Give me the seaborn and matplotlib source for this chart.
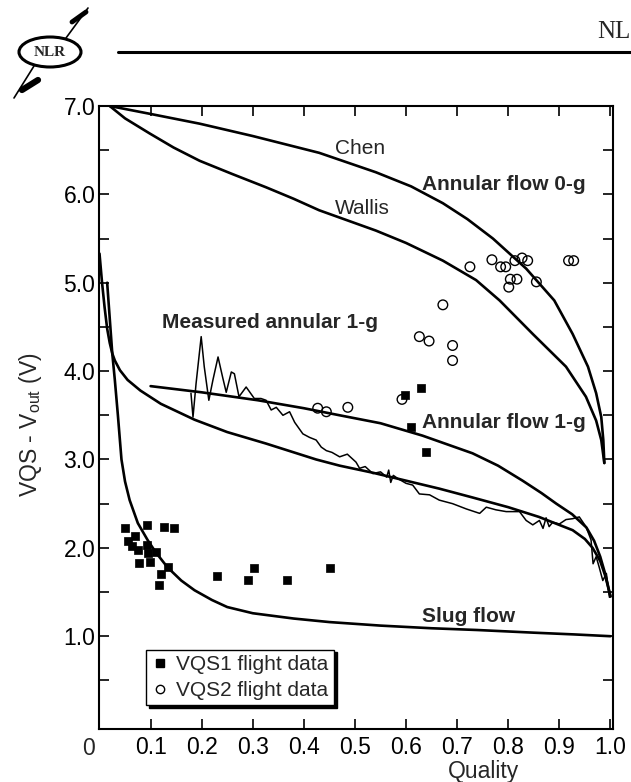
import numpy as np
import pandas as pd
import matplotlib
matplotlib.use("Agg")
import matplotlib.pyplot as plt
import seaborn as sns
from matplotlib.lines import Line2D
from matplotlib.patches import Ellipse

# data
chen_x = [0.02, 0.10, 0.196, 0.30, 0.43, 0.541, 0.61, 0.672, 0.72, 0.77, 0.835, 0.89, 0.926, 0.956, 0.972, 0.982, 0.986, 0.988]
chen_y = [7.0, 6.91, 6.80, 6.66, 6.47, 6.25, 6.09, 5.90, 5.72, 5.50, 5.16, 4.80, 4.42, 4.05, 3.75, 3.48, 3.22, 2.96]

wallis_x = [0.02, 0.05, 0.098, 0.145, 0.196, 0.26, 0.326, 0.38, 0.43, 0.541, 0.60, 0.672, 0.737, 0.783, 0.848,
            0.913, 0.952, 0.972, 0.982, 0.988]
wallis_y = [7.0, 6.86, 6.69, 6.53, 6.38, 6.23, 6.08, 5.95, 5.82, 5.59, 5.45, 5.25, 5.03, 4.80, 4.42,
            4.05, 3.71, 3.44, 3.22, 2.96]

annular1g_x = [0.10, 0.20, 0.31, 0.40, 0.47, 0.55, 0.632, 0.73, 0.78, 0.828, 0.865, 0.894, 0.925, 0.953, 0.968, 0.98, 0.99, 1.0]
annular1g_y = [3.83, 3.76, 3.67, 3.58, 3.50, 3.41, 3.27, 3.07, 2.93, 2.76, 2.62, 2.50, 2.38, 2.23, 2.08, 1.90, 1.70, 1.45]

model_x = [0.0, 0.005, 0.01, 0.015, 0.02, 0.025, 0.03, 0.04, 0.055, 0.08, 0.12, 0.186, 0.25, 0.326, 0.424, 0.47,
           0.535, 0.60, 0.665, 0.73, 0.80, 0.86, 0.926, 0.95, 0.965, 0.98, 0.99, 1.0]
model_y = [5.33, 5.0, 4.72, 4.48, 4.32, 4.20, 4.12, 4.01, 3.90, 3.78, 3.63, 3.45, 3.31, 3.18, 3.00, 2.93,
           2.85, 2.76, 2.67, 2.57, 2.46, 2.35, 2.20, 2.10, 2.00, 1.85, 1.68, 1.45]

slug_x = [0.015, 0.02, 0.025, 0.03, 0.036, 0.043, 0.05, 0.059, 0.075, 0.094, 0.11, 0.133, 0.16, 0.186, 0.22,
          0.25, 0.30, 0.38, 0.45, 0.55, 0.65, 0.74, 0.85, 0.93, 1.0]
slug_y = [5.0, 4.6, 4.2, 3.9, 3.5, 3.0, 2.75, 2.54, 2.28, 2.09, 1.95, 1.78, 1.63, 1.52, 1.41,
          1.33, 1.26, 1.20, 1.16, 1.12, 1.09, 1.07, 1.04, 1.02, 1.0]

measured_x = [0.179, 0.183, 0.189, 0.199, 0.205, 0.214, 0.222, 0.232, 0.241, 0.248, 0.258, 0.264, 0.273, 0.287,
              0.303, 0.316, 0.326, 0.336, 0.346, 0.359, 0.372, 0.382, 0.398, 0.411, 0.424, 0.434, 0.444, 0.455,
              0.470, 0.485, 0.502, 0.509, 0.520, 0.535, 0.550, 0.562, 0.566, 0.570, 0.575, 0.585, 0.600, 0.613,
              0.626, 0.646, 0.665, 0.691, 0.718, 0.744, 0.757, 0.776, 0.796, 0.822, 0.835, 0.848, 0.861, 0.868,
              0.874, 0.880, 0.887, 0.900, 0.913, 0.926, 0.939, 0.952, 0.962, 0.966, 0.972, 0.978, 0.985, 0.992, 0.998]
measured_y = [3.75, 3.48, 3.86, 4.39, 4.05, 3.67, 3.90, 4.16, 3.93, 3.76, 3.99, 3.97, 3.71, 3.82,
              3.69, 3.69, 3.67, 3.56, 3.59, 3.50, 3.54, 3.42, 3.29, 3.25, 3.22, 3.14, 3.10, 3.08,
              3.03, 3.06, 2.97, 2.90, 2.92, 2.84, 2.86, 2.80, 2.88, 2.74, 2.82, 2.78, 2.73, 2.71,
              2.61, 2.60, 2.54, 2.50, 2.44, 2.39, 2.46, 2.43, 2.41, 2.41, 2.31, 2.26, 2.31, 2.22,
              2.34, 2.24, 2.29, 2.27, 2.32, 2.33, 2.35, 2.24, 2.09, 1.82, 1.90, 1.78, 1.63, 1.71, 1.44]

vqs1_x = [0.049, 0.093, 0.127, 0.145, 0.070, 0.055, 0.063, 0.076, 0.093, 0.095, 0.111, 0.078, 0.098, 0.135,
          0.121, 0.117, 0.230, 0.302, 0.290, 0.367, 0.451, 0.597, 0.630, 0.610, 0.639]
vqs1_y = [2.23, 2.26, 2.24, 2.23, 2.13, 2.08, 2.02, 1.98, 2.03, 1.94, 1.95, 1.83, 1.84, 1.78,
          1.70, 1.58, 1.68, 1.77, 1.64, 1.64, 1.77, 3.73, 3.81, 3.37, 3.09]

vqs2_x = [0.725, 0.768, 0.785, 0.795, 0.813, 0.827, 0.838, 0.804, 0.817, 0.801, 0.855, 0.918, 0.928,
          0.672, 0.626, 0.645, 0.691, 0.691, 0.427, 0.444, 0.486, 0.592]
vqs2_y = [5.18, 5.26, 5.18, 5.18, 5.25, 5.28, 5.25, 5.04, 5.04, 4.95, 5.01, 5.25, 5.25,
          4.75, 4.39, 4.34, 4.29, 4.12, 3.58, 3.54, 3.59, 3.68]

x_ticks = [0.1, 0.2, 0.3, 0.4, 0.5, 0.6, 0.7, 0.8, 0.9, 1.0]
x_ticklabels = ["0.1", "0.2", "0.3", "0.4", "0.5", "0.6", "0.7", "0.8", "0.9", "1.0"]
y_ticks = [0.5, 1.0, 1.5, 2.0, 2.5, 3.0, 3.5, 4.0, 4.5, 5.0, 5.5, 6.0, 6.5, 7.0]
y_ticklabels = ["", "1.0", "", "2.0", "", "3.0", "", "4.0", "", "5.0", "", "6.0", "", "7.0"]

sns.set_style("ticks")
plt.rcParams["font.family"] = ["Liberation Sans", "DejaVu Sans"]
plt.rcParams["mathtext.default"] = "regular"

fig = plt.figure(figsize=(6.31, 7.82), dpi=100)
ax = fig.add_axes([99.5 / 631, 1 - 729 / 782, 513 / 631, 623 / 782])

# model curves
for xs, ys in [(chen_x, chen_y), (wallis_x, wallis_y), (annular1g_x, annular1g_y),
               (model_x, model_y), (slug_x, slug_y)]:
    sns.lineplot(x=xs, y=ys, sort=False, estimator=None, color="black", lw=1.9, ax=ax)

sns.lineplot(x=measured_x, y=measured_y, sort=False, estimator=None, color="black", lw=1.1, ax=ax)

# flight data
sns.scatterplot(x=vqs2_x, y=vqs2_y, marker="o", s=48, facecolor="none", edgecolor="black",
                linewidth=1.0, ax=ax, zorder=3)
sns.scatterplot(x=vqs1_x, y=vqs1_y, marker="s", s=38, color="black", edgecolor="black",
                linewidth=0.5, ax=ax, zorder=4)
ax.collections[0].set_facecolor("none")

h1 = Line2D([], [], marker="s", ls="none", color="black", markersize=6)
h2 = Line2D([], [], marker="o", ls="none", markerfacecolor="none", markeredgecolor="black", markersize=6)
leg = ax.legend([h1, h2], ["VQS1 flight data", "VQS2 flight data"], loc="lower left",
                bbox_to_anchor=(0.091, 0.038), borderaxespad=0, fontsize=15, frameon=True,
                fancybox=False, handlelength=0.8, handletextpad=0.4, borderpad=0.25,
                labelspacing=0.35, shadow={"color": "black", "alpha": 1.0})
leg.get_frame().set_edgecolor("black")
leg.get_frame().set_linewidth(1.0)

# annotations
ax.text(0.509, 6.52, "Chen", fontsize=15, ha="center", va="center")
ax.text(0.515, 5.84, "Wallis", fontsize=15, ha="center", va="center")
ax.text(0.632, 6.11, "Annular flow 0-g", fontsize=15, fontweight="bold", ha="left", va="center")
ax.text(0.123, 4.55, "Measured annular 1-g", fontsize=15, fontweight="bold", ha="left", va="center")
ax.text(0.632, 3.42, "Annular flow 1-g", fontsize=15, fontweight="bold", ha="left", va="center")
ax.text(0.632, 1.22, "Slug flow", fontsize=15, fontweight="bold", ha="left", va="center")

# axes
ax.set_xlim(0, 1.004)
ax.set_ylim(-0.05, 7.0)
ax.set_xticks(x_ticks)
ax.set_xticklabels(x_ticklabels)
ax.set_yticks(y_ticks)
ax.set_yticklabels(y_ticklabels)
ax.tick_params(direction="in", length=7, width=1.2, top=True, right=True, labelsize=16.5, colors="black")
ax.tick_params(axis="x", pad=5)
ax.tick_params(axis="y", pad=3)
for sp in ax.spines.values():
    sp.set_visible(True)
    sp.set_linewidth(1.5)
    sp.set_color("black")
ax.annotate("0", xy=(0, 0), xycoords="axes fraction", xytext=(-8, -6), textcoords="offset points",
            ha="center", va="top", fontsize=16.5)

ax.set_xlabel("Quality", fontsize=16.5)
ax.xaxis.set_label_coords(0.748, -0.05)
ax.set_ylabel("VQS - V$_{out}$ (V)", fontsize=16.5)
ax.yaxis.set_label_coords(-0.108, 0.488)

# header: logo and rule
fig.add_artist(Line2D([118 / 631, 1.0], [1 - 52 / 782, 1 - 52 / 782], color="black", lw=2.2))
fig.text(597 / 631, 1 - 32 / 782, "NL", family=["Liberation Serif", "DejaVu Serif"], fontsize=18,
         ha="left", va="center")
fig.add_artist(Ellipse((50 / 631, 1 - 52 / 782), 62 / 631, 30 / 782, fill=False, ec="black", lw=2.2,
                       transform=fig.transFigure))
fig.text(50 / 631, 1 - 52 / 782, "NLR", family=["Liberation Serif", "DejaVu Serif"], fontsize=11,
         fontweight="bold", ha="center", va="center")
fig.add_artist(Line2D([66 / 631, 88 / 631], [1 - 38 / 782, 1 - 8 / 782], color="black", lw=1.2))
fig.add_artist(Line2D([34 / 631, 14 / 631], [1 - 66 / 782, 1 - 98 / 782], color="black", lw=1.2))
fig.add_artist(Line2D([72 / 631, 86 / 631], [1 - 22 / 782, 1 - 12 / 782], color="black", lw=3.5))
fig.add_artist(Line2D([22 / 631, 38 / 631], [1 - 90 / 782, 1 - 80 / 782], color="black", lw=4.5))

fig.savefig("out.png", dpi=100)
